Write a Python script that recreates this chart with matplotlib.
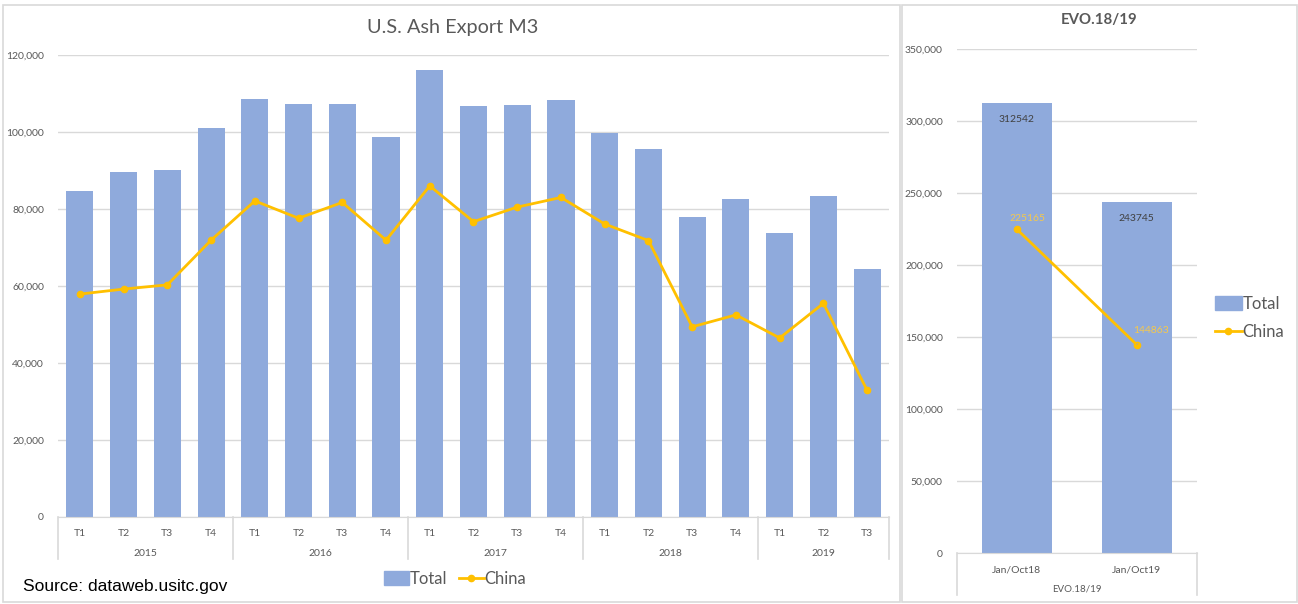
import matplotlib
matplotlib.use("Agg")
import matplotlib.pyplot as plt
from matplotlib.patches import Rectangle
from matplotlib.lines import Line2D
from matplotlib.ticker import FuncFormatter, MultipleLocator
import matplotlib.transforms as mtransforms

# ---------------- data ----------------
years = ["2015", "2016", "2017", "2018", "2019"]
quarters = [["T1", "T2", "T3", "T4"], ["T1", "T2", "T3", "T4"], ["T1", "T2", "T3", "T4"],
            ["T1", "T2", "T3", "T4"], ["T1", "T2", "T3"]]
total = [84700, 89500, 90100, 101000, 108600, 107400, 107400, 98800, 116200, 106800,
         107000, 108300, 99700, 95600, 77800, 82600, 73700, 83500, 64400]
china = [57900, 59200, 60300, 71900, 82100, 77600, 81700, 71900, 86000, 76700,
         80500, 83000, 76100, 71800, 49400, 52500, 46500, 55500, 32900]

evo_cats = ["Jan/Oct18", "Jan/Oct19"]
evo_group = "EVO.18/19"
evo_total = [312542, 243745]
evo_china = [225165, 144863]

BAR = "#8faadc"
LINE = "#ffc000"
LABEL_Y = "#f5c84c"
GRID = "#d9d9d9"
TXT = "#595959"
FONT = ["Lato", "DejaVu Sans"]

W, H = 1298, 604
fig = plt.figure(figsize=(W / 100, H / 100), dpi=100)
plt.rcParams['font.family'] = FONT


def fx(px):
    return px / W


def fy(py):
    return 1 - py / H


# panel borders
for x0, x1 in [(3, 900), (902, 1297)]:
    fig.patches.append(Rectangle((fx(x0), fy(602)), fx(x1 - x0), (602 - 4.5) / H,
                                 transform=fig.transFigure, fill=False,
                                 edgecolor=GRID, linewidth=1.2))

fmt = FuncFormatter(lambda v, p: f"{v:,.0f}")

# ---------------- left chart ----------------
L, R, T, B = 58, 889, 55, 517
ax = fig.add_axes([fx(L), fy(B), fx(R - L), (B - T) / H])
n = len(total)
xs = list(range(n))
ax.bar(xs, total, width=0.62, color=BAR, zorder=2)
ax.plot(xs, china, color=LINE, lw=2, marker="o", ms=4.5, zorder=3)
ax.set_xlim(-0.5, n - 0.5)
ax.set_ylim(0, 120000)
ax.yaxis.set_major_locator(MultipleLocator(20000))
ax.yaxis.set_major_formatter(fmt)
ax.grid(axis="y", color=GRID, lw=1, zorder=0)
for s in ["top", "right", "left"]:
    ax.spines[s].set_visible(False)
ax.spines["bottom"].set_color(GRID)
ax.tick_params(axis="y", length=0, labelsize=7.5, labelcolor=TXT, pad=10)
ax.set_xticks(xs)
flat_q = [q for grp in quarters for q in grp]
ax.set_xticklabels(flat_q)
ax.tick_params(axis="x", length=0, labelsize=7.5, labelcolor=TXT, pad=9)

trans = mtransforms.blended_transform_factory(ax.transData, ax.transAxes)
sep_h = (559 - 517) / (B - T)
year_y = -(553 - 517) / (B - T)
start = 0
bounds = [-0.5]
for yr, grp in zip(years, quarters):
    end = start + len(grp)
    ax.text((start + end - 1) / 2, year_y, yr, transform=trans, ha="center", va="center",
            fontsize=7.5, color=TXT)
    bounds.append(end - 0.5)
    start = end
for b in bounds:
    ax.add_line(Line2D([b, b], [0, -sep_h], transform=trans, color=GRID, lw=1.2, clip_on=False))

fig.text(fx(453), fy(28), "U.S. Ash Export M3", ha="center", va="center", fontsize=14.3, color=TXT)

# legend (bottom)
handles = [Rectangle((0, 0), 1, 1, color=BAR),
           Line2D([0], [0], color=LINE, lw=2, marker="o", ms=4.5)]
fig.legend(handles, ["Total", "China"], loc="center", bbox_to_anchor=(fx(455), fy(579)),
           ncol=2, frameon=False, fontsize=12, labelcolor=TXT, handlelength=1.5,
           handletextpad=0.05, columnspacing=0.7, handleheight=0.9)

fig.text(fx(23), fy(587), "Source: dataweb.usitc.gov", ha="left", va="center",
         fontsize=12.5, family=["Liberation Sans", "DejaVu Sans"], color="black")

# ---------------- right chart ----------------
L2, R2, T2, B2 = 956.7, 1196.7, 49.3, 553.3
ax2 = fig.add_axes([fx(L2), fy(B2), fx(R2 - L2), (B2 - T2) / H])
x2 = [0, 1]
ax2.bar(x2, evo_total, width=0.583, color=BAR, zorder=2)
ax2.plot(x2, evo_china, color=LINE, lw=2, marker="o", ms=4.5, zorder=3)
ax2.set_xlim(-0.5, 1.5)
ax2.set_ylim(0, 350000)
ax2.yaxis.set_major_locator(MultipleLocator(50000))
ax2.yaxis.set_major_formatter(fmt)
ax2.grid(axis="y", color=GRID, lw=1, zorder=0)
for s in ["top", "right", "left"]:
    ax2.spines[s].set_visible(False)
ax2.spines["bottom"].set_color(GRID)
ax2.tick_params(axis="y", length=0, labelsize=7.5, labelcolor=TXT, pad=10)
ax2.set_xticks(x2)
ax2.set_xticklabels(evo_cats)
ax2.tick_params(axis="x", length=0, labelsize=7.5, labelcolor=TXT, pad=9)
trans2 = mtransforms.blended_transform_factory(ax2.transData, ax2.transAxes)
sep2 = (595 - 553.3) / (B2 - T2)
ax2.text(0.5, -(589 - 553.3) / (B2 - T2), evo_group, transform=trans2, ha="center",
         va="center", fontsize=7, color=TXT)
for b in [-0.5, 1.5]:
    ax2.add_line(Line2D([b, b], [0, -sep2], transform=trans2, color=GRID, lw=1.2, clip_on=False))

for xi, v in zip(x2, evo_total):
    ax2.annotate(str(v), (xi, v), xytext=(0, -12), textcoords="offset points",
                 ha="center", va="center", fontsize=7.5, color="#404040")
ax2.annotate(str(evo_china[0]), (x2[0], evo_china[0]), xytext=(8, 7.5), textcoords="offset points",
             ha="center", va="center", fontsize=7.5, color=LABEL_Y, zorder=4)
ax2.annotate(str(evo_china[1]), (x2[1], evo_china[1]), xytext=(10, 10.5), textcoords="offset points",
             ha="center", va="center", fontsize=7.5, color=LABEL_Y, zorder=4,
             arrowprops=dict(arrowstyle="-", color="#a6a6a6", lw=0.6, shrinkA=6, shrinkB=2))

fig.text(fx(1099), fy(20), "EVO.18/19", ha="center", va="center", fontsize=10.8,
         fontweight="bold", color=TXT)

fig.legend(handles, ["Total", "China"], loc="center left", bbox_to_anchor=(fx(1200), fy(318)),
           ncol=1, frameon=False, fontsize=12, labelcolor=TXT, handlelength=1.6,
           handletextpad=0.05, labelspacing=0.75, handleheight=0.9)

fig.savefig("out.png", dpi=100)
